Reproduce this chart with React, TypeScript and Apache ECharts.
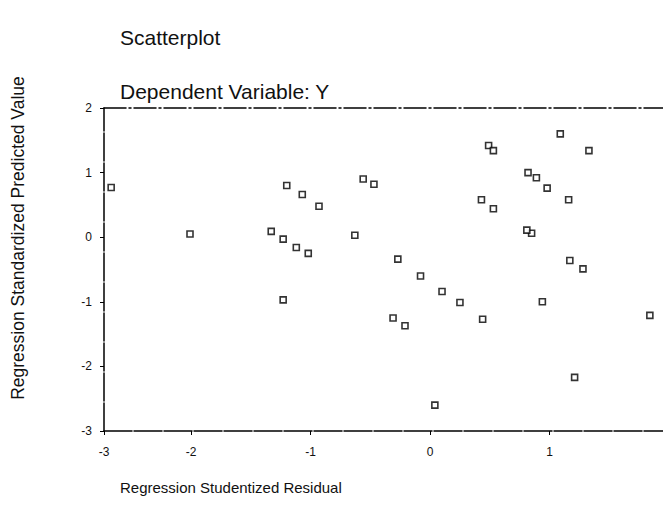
import React, { useEffect, useRef } from "react";
import * as echarts from "echarts";

// Regression Studentized Residual (x) vs Regression Standardized Predicted Value (y)
const residuals = [
  -2.67, -2.01, -1.2, -1.07, -0.93, -1.33, -1.23, -1.12, -1.02, -1.23, -0.63, -0.56, -0.47,
  1.09, 0.49, 0.53, 1.33, 0.82, 0.89, 0.98, 1.16, 0.43, 0.53, 0.85, 0.81,
  -0.27, -0.08, 0.1, 0.25, -0.31, -0.21, 0.44, 0.04, 1.17, 1.28, 0.94, 1.21, 1.84,
];
const predicted = [
  0.77, 0.05, 0.8, 0.66, 0.48, 0.09, -0.03, -0.16, -0.25, -0.97, 0.03, 0.9, 0.82,
  1.6, 1.42, 1.34, 1.34, 1.0, 0.92, 0.76, 0.58, 0.58, 0.44, 0.06, 0.11,
  -0.34, -0.6, -0.84, -1.01, -1.25, -1.37, -1.27, -2.6, -0.36, -0.49, -1.0, -2.17, -1.21,
];

const xTickValues = [-2.73, -2, -1, 0, 1];
const xTickLabels = ["-3", "-2", "-1", "0", "1"];
const yTickLabels = ["-3", "-2", "-1", "0", "1", "2"];

const titleText = "Scatterplot";
const subtitleText = "Dependent Variable: Y";
const xAxisTitle = "Regression Studentized Residual";
const yAxisTitle = "Regression Standardized Predicted Value";

const FONT = '"Liberation Sans", Arial, Helvetica, sans-serif';

export default function App() {
  const ref = useRef<HTMLDivElement>(null);

  useEffect(() => {
    if (!ref.current) return;
    document.body.style.margin = "0";
    const chart = echarts.init(ref.current, undefined, { renderer: "svg" });
    const points = residuals.map((x, i) => [x, predicted[i]]);
    const xMin = -2.73;
    const xMax = 1.95;
    const axisLine = {
      show: true,
      onZero: false,
      lineStyle: { color: "#000", width: 1.5, type: [28, 2] },
    };

    chart.setOption({
      animation: false,
      backgroundColor: "#fff",
      grid: { left: 104, right: 0, top: 108, bottom: 82, containLabel: false },
      xAxis: [
        {
          type: "value",
          min: xMin,
          max: xMax,
          position: "bottom",
          axisLine,
          splitLine: { show: false },
          axisTick: {
            show: true,
            inside: false,
            length: 4,
            customValues: xTickValues,
            lineStyle: { color: "#000" },
          },
          axisLabel: {
            customValues: xTickValues,
            formatter: (v: number) => {
              const idx = xTickValues.findIndex((t) => Math.abs(t - v) < 1e-6);
              return idx >= 0 ? xTickLabels[idx] : "";
            },
            margin: 15,
            fontSize: 12,
            color: "#111",
            fontFamily: FONT,
          },
        },
        {
          type: "value",
          min: xMin,
          max: xMax,
          position: "top",
          axisLine: {
            show: true,
            onZero: false,
            lineStyle: { color: "#000", width: 1.5, type: [22, 3, 2, 3] },
          },
          axisTick: { show: false },
          axisLabel: { show: false },
          splitLine: { show: false },
        },
      ],
      yAxis: {
        type: "value",
        min: -3,
        max: 2,
        interval: 1,
        axisLine,
        splitLine: { show: false },
        axisTick: { show: true, inside: false, length: 4, lineStyle: { color: "#000" } },
        axisLabel: {
          formatter: (v: number) => {
            const s = String(Math.round(v));
            return yTickLabels.includes(s) ? s : "";
          },
          margin: 12,
          fontSize: 12,
          color: "#111",
          fontFamily: FONT,
        },
      },
      graphic: [
        {
          type: "text",
          left: 120,
          top: 27,
          style: { text: titleText, font: `21px ${FONT}`, fill: "#111" },
        },
        {
          type: "text",
          left: 120,
          top: 81,
          style: { text: subtitleText, font: `21px ${FONT}`, fill: "#111" },
        },
        {
          type: "text",
          x: 120,
          y: 487,
          style: {
            text: xAxisTitle,
            font: `15px ${FONT}`,
            fill: "#111",
            textAlign: "left",
            textVerticalAlign: "middle",
          },
        },
        {
          type: "text",
          x: 18,
          y: 238,
          rotation: Math.PI / 2,
          style: {
            text: yAxisTitle,
            font: `17.5px ${FONT}`,
            fill: "#111",
            textAlign: "center",
            textVerticalAlign: "middle",
          },
        },
      ],
      series: [
        {
          type: "scatter",
          xAxisIndex: 0,
          data: points,
          symbol: "rect",
          symbolSize: 6,
          itemStyle: { color: "#fff", borderColor: "#000", borderWidth: 1.6 },
          silent: true,
        },
      ],
    });

    return () => chart.dispose();
  }, []);

  return <div ref={ref} style={{ width: 663, height: 513 }} />;
}
